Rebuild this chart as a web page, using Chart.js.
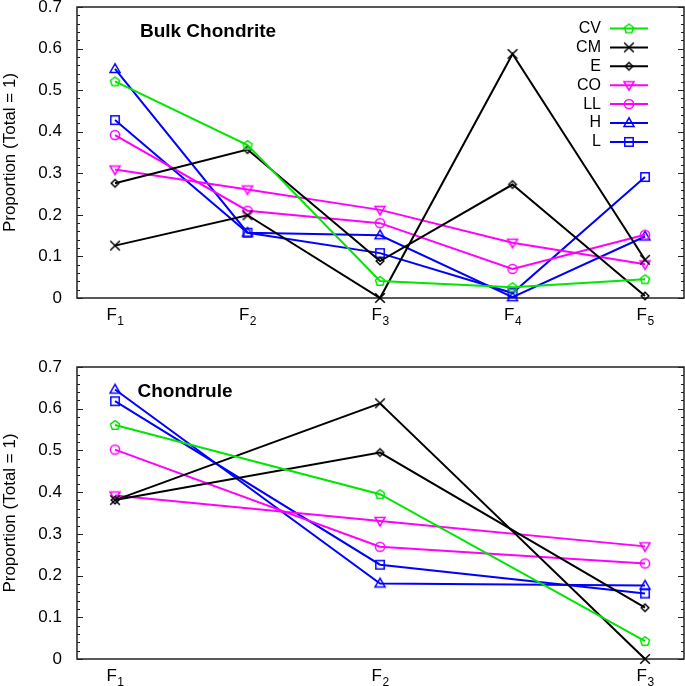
<!DOCTYPE html>
<html>
<head>
<meta charset="utf-8">
<script src="https://cdn.jsdelivr.net/npm/chart.js@4.4.1/dist/chart.umd.min.js"></script>
<style>
  body { margin: 0; background: #fff; }
  #wrap { position: relative; width: 685px; height: 686px; }
  canvas { position: absolute; left: 0; }
</style>
</head>
<body>
<div id="wrap">
  <canvas id="bulk" width="685" height="340" style="top:0"></canvas>
  <canvas id="chond" width="685" height="346" style="top:340px"></canvas>
</div>
<script>
// series shared by both panels
const seriesNames = ['CV', 'CM', 'E', 'CO', 'LL', 'H', 'L'];
const seriesColors = ['#00e600', '#000000', '#000000', '#ff00ff', '#ff00ff', '#0000ff', '#0000ff'];
const seriesMarkers = ['pentagon', 'cross', 'diamond', 'triangleDown', 'circle', 'triangle', 'square'];

// Bulk chondrite, factors F1..F5
const bulkFactors = ['F1', 'F2', 'F3', 'F4', 'F5'];
const bulkCV = [0.521, 0.368, 0.041, 0.026, 0.045];
const bulkCM = [0.126, 0.199, 0.000, 0.587, 0.092];
const bulkE  = [0.276, 0.357, 0.089, 0.273, 0.005];
const bulkCO = [0.309, 0.261, 0.212, 0.133, 0.081];
const bulkLL = [0.392, 0.210, 0.180, 0.070, 0.152];
const bulkH  = [0.551, 0.157, 0.151, 0.002, 0.148];
const bulkL  = [0.428, 0.157, 0.108, 0.012, 0.291];

// Chondrule, factors F1..F3
const chondFactors = ['F1', 'F2', 'F3'];
const chondCV = [0.561, 0.395, 0.043];
const chondCM = [0.381, 0.613, 0.000];
const chondE  = [0.381, 0.495, 0.123];
const chondCO = [0.392, 0.331, 0.270];
const chondLL = [0.502, 0.269, 0.229];
const chondH  = [0.646, 0.181, 0.176];
const chondL  = [0.618, 0.226, 0.157];

const yMin = 0, yMax = 0.7, yStep = 0.1;
const yTitle = 'Proportion (Total = 1)';

const FONT = "'Liberation Sans', Arial, Helvetica, sans-serif";

// hollow marker images
function makeMarker(kind, color) {
  const c = document.createElement('canvas');
  c.width = 16; c.height = 16;
  const g = c.getContext('2d');
  g.strokeStyle = color;
  g.lineWidth = 1.5;
  g.translate(8, 8);
  g.beginPath();
  if (kind === 'pentagon') {
    for (let i = 0; i < 5; i++) {
      const a = -Math.PI / 2 + i * 2 * Math.PI / 5;
      const px = 4.8 * Math.cos(a), py = 4.8 * Math.sin(a) + 0.4;
      i ? g.lineTo(px, py) : g.moveTo(px, py);
    }
    g.closePath();
  } else if (kind === 'cross') {
    g.moveTo(-4.8, -4.8); g.lineTo(4.8, 4.8);
    g.moveTo(4.8, -4.8); g.lineTo(-4.8, 4.8);
  } else if (kind === 'diamond') {
    g.moveTo(0, -3.8); g.lineTo(3.8, 0); g.lineTo(0, 3.8); g.lineTo(-3.8, 0);
    g.closePath();
  } else if (kind === 'triangleDown') {
    g.moveTo(0, 5); g.lineTo(-5, -3.5); g.lineTo(5, -3.5);
    g.closePath();
  } else if (kind === 'circle') {
    g.arc(0, 0, 4.6, 0, Math.PI * 2);
  } else if (kind === 'triangle') {
    g.moveTo(0, -5.2); g.lineTo(-5, 3.5); g.lineTo(5, 3.5);
    g.closePath();
  } else if (kind === 'square') {
    g.rect(-4.2, -4.2, 8.4, 8.4);
  }
  g.stroke();
  return c;
}

const markerImgs = seriesMarkers.map((m, i) => makeMarker(m, seriesColors[i]));

function buildDatasets(cols) {
  return cols.map((vals, i) => ({
    label: seriesNames[i],
    data: vals.map((v, j) => ({ x: j + 1, y: v })),
    borderColor: seriesColors[i],
    backgroundColor: seriesColors[i],
    borderWidth: 2,
    pointStyle: markerImgs[i],
    pointRadius: 5,
    pointHoverRadius: 5,
    tension: 0,
    fill: false,
    clip: false
  }));
}

// frame, inner ticks, factor labels, panel title, legend
const decor = {
  id: 'decor',
  beforeDatasetsDraw(chart) {
    const { ctx, chartArea: a } = chart;
    const y = chart.scales.y;
    ctx.save();
    ctx.strokeStyle = '#222';
    ctx.lineWidth = 1;
    for (let k = 0; k <= 35; k++) {
      const v = k * 0.02;
      const py = Math.round(y.getPixelForValue(v)) + 0.5;
      const len = k % 5 === 0 ? 6 : 3;
      ctx.beginPath();
      ctx.moveTo(a.left, py); ctx.lineTo(a.left + len, py);
      ctx.moveTo(a.right, py); ctx.lineTo(a.right - len, py);
      ctx.stroke();
    }
    ctx.lineWidth = 1.5;
    ctx.strokeStyle = '#222';
    ctx.strokeRect(a.left, a.top, a.right - a.left, a.bottom - a.top);
    ctx.restore();
  },
  afterDraw(chart, args, opts) {
    const { ctx, chartArea: a } = chart;
    const x = chart.scales.x;
    ctx.save();
    ctx.fillStyle = '#000';
    // factor labels with subscripts
    opts.factors.forEach((f, i) => {
      const px = x.getPixelForValue(i + 1);
      const main = f.charAt(0), sub = f.slice(1);
      ctx.font = '17px ' + FONT;
      const w1 = ctx.measureText(main).width;
      ctx.font = '12px ' + FONT;
      const w2 = ctx.measureText(sub).width;
      const left = px - (w1 + w2) / 2;
      ctx.textAlign = 'left';
      ctx.textBaseline = 'alphabetic';
      ctx.font = '17px ' + FONT;
      ctx.fillText(main, left, a.bottom + opts.labelGap);
      ctx.font = '12px ' + FONT;
      ctx.fillText(sub, left + w1 + 0.5, a.bottom + opts.labelGap + 5);
    });
    // panel title
    ctx.font = 'bold 19px ' + FONT;
    ctx.textAlign = 'center';
    ctx.textBaseline = 'middle';
    ctx.fillText(opts.title, opts.titleX, opts.titleY);
    // legend
    if (opts.legend) {
      ctx.font = '16px ' + FONT;
      ctx.textAlign = 'right';
      chart.data.datasets.forEach((ds, i) => {
        const ly = 28.5 + i * 18.9;
        ctx.fillStyle = '#000';
        ctx.fillText(ds.label, 601, ly);
        ctx.strokeStyle = ds.borderColor;
        ctx.lineWidth = 2;
        ctx.beginPath();
        ctx.moveTo(610, ly); ctx.lineTo(648, ly);
        ctx.stroke();
        ctx.drawImage(markerImgs[i], 629 - 8, ly - 8);
      });
    }
    ctx.restore();
  }
};

function makeChart(id, cols, factors, xMin, xMax, padTop, xAxisH, deco) {
  return new Chart(document.getElementById(id), {
    type: 'line',
    data: { datasets: buildDatasets(cols) },
    options: {
      responsive: false,
      animation: false,
      devicePixelRatio: 1,
      events: [],
      layout: { autoPadding: false, padding: { top: padTop, right: 1, left: 0, bottom: 0 } },
      plugins: {
        legend: { display: false },
        tooltip: { enabled: false },
        decor: Object.assign({ factors: factors }, deco)
      },
      scales: {
        x: {
          type: 'linear',
          min: xMin,
          max: xMax,
          grid: { display: false },
          border: { display: false },
          ticks: { display: false },
          afterFit: s => { s.height = xAxisH; s.paddingLeft = 0; s.paddingRight = 0; }
        },
        y: {
          min: yMin,
          max: yMax,
          grid: { display: false, drawTicks: false },
          border: { display: false },
          ticks: {
            stepSize: yStep,
            padding: 15,
            color: '#000',
            font: { family: FONT, size: 17 },
            callback: v => (v === 0 ? '0' : v.toFixed(1))
          },
          title: {
            display: true,
            text: yTitle,
            color: '#000',
            padding: { top: 0, bottom: 0 },
            font: { family: FONT, size: 17 }
          },
          afterFit: s => { s.width = 77; s.paddingTop = 0; s.paddingBottom = 0; }
        }
      }
    },
    plugins: [decor]
  });
}

makeChart('bulk',
  [bulkCV, bulkCM, bulkE, bulkCO, bulkLL, bulkH, bulkL],
  bulkFactors, 0.7132, 5.294, 7, 42,
  { title: 'Bulk Chondrite', titleX: 208, titleY: 32, legend: true, labelGap: 22 });

makeChart('chond',
  [chondCV, chondCM, chondE, chondCO, chondLL, chondH, chondL],
  chondFactors, 0.8566, 3.147, 27, 27,
  { title: 'Chondrule', titleX: 185, titleY: 52, legend: false, labelGap: 22 });
</script>
</body>
</html>
